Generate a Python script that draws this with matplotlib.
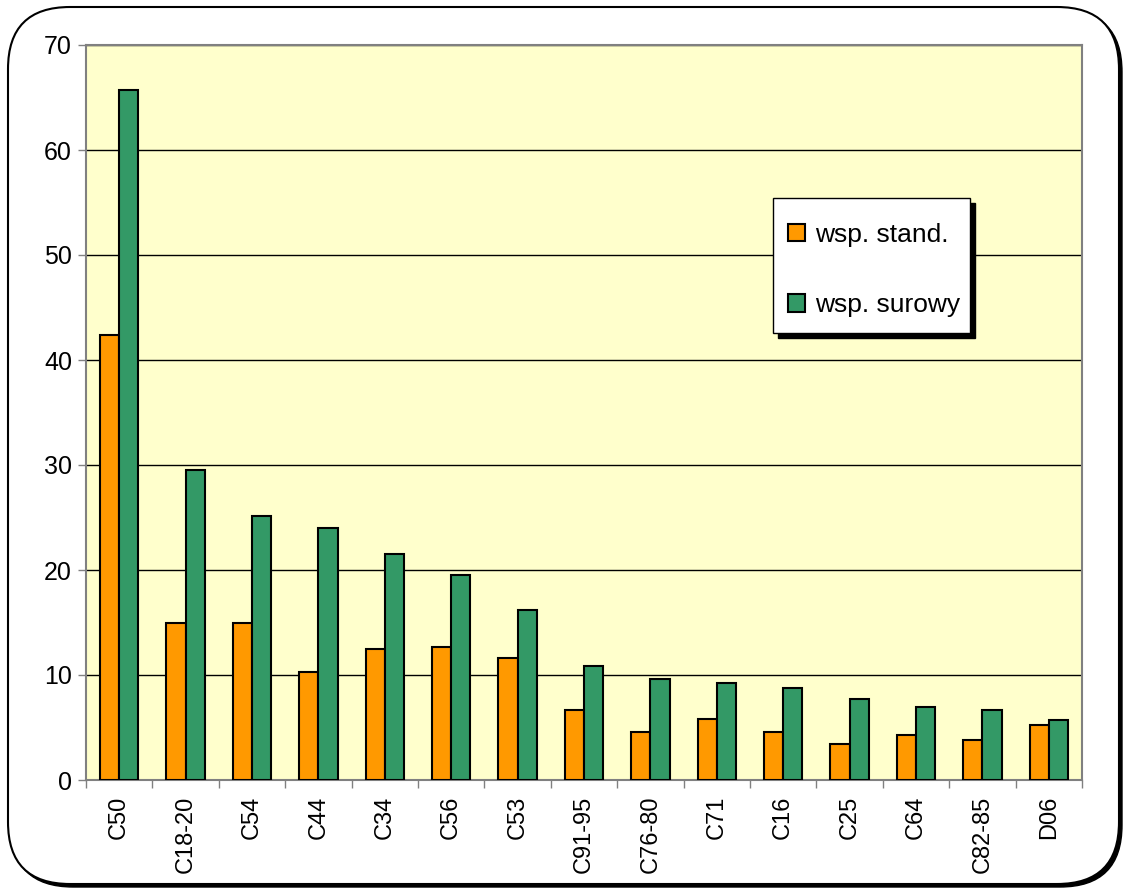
import matplotlib
matplotlib.use('Agg')
from matplotlib import pyplot as plt
from matplotlib.patches import FancyBboxPatch, Rectangle
from matplotlib.transforms import IdentityTransform
import numpy as np

plt.rcParams['font.family'] = ['Liberation Sans', 'DejaVu Sans']

# categories and values
categories = ['C50', 'C18-20', 'C54', 'C44', 'C34', 'C56', 'C53', 'C91-95',
              'C76-80', 'C71', 'C16', 'C25', 'C64', 'C82-85', 'D06']
wsp_stand = [42.4, 15.0, 15.0, 10.3, 12.5, 12.7, 11.6, 6.7,
             4.6, 5.8, 4.6, 3.4, 4.3, 3.8, 5.2]
wsp_surowy = [65.7, 29.5, 25.1, 24.0, 21.5, 19.5, 16.2, 10.9,
              9.6, 9.2, 8.8, 7.7, 7.0, 6.7, 5.7]

fig = plt.figure(figsize=(11.29, 8.91), dpi=100)

# rounded frame around the whole chart (pixel coordinates), behind the axes
shadow = FancyBboxPatch((11, 4), 1111, 877, boxstyle='round,pad=0,rounding_size=62',
                        transform=IdentityTransform(), facecolor='black',
                        edgecolor='black', lw=1, zorder=-2)
frame = FancyBboxPatch((8, 7), 1111, 877, boxstyle='round,pad=0,rounding_size=62',
                       transform=IdentityTransform(), facecolor='white',
                       edgecolor='black', lw=1.5, zorder=-1)
fig.patches.append(shadow)
fig.patches.append(frame)

ax = fig.add_axes([86 / 1129, 1 - 780 / 891, 996 / 1129, 735 / 891])
ax.set_facecolor('#FFFFCC')

x = np.arange(len(categories))
w = 0.29
ax.bar(x - w / 2, wsp_stand, w, color='#FF9900', edgecolor='black', lw=1.5,
       label='wsp. stand.', zorder=3)
ax.bar(x + w / 2, wsp_surowy, w, color='#339966', edgecolor='black', lw=1.5,
       label='wsp. surowy', zorder=3)

ax.set_xlim(-0.5, len(categories) - 0.5)
ax.set_ylim(0, 70)
ax.set_yticks(range(0, 71, 10))
ax.yaxis.grid(True, color='black', lw=1, zorder=1)

ax.set_xticks(x)
ax.set_xticklabels(categories, rotation=90, fontsize=17)
ax.set_xticks(np.arange(-0.5, len(categories), 1), minor=True)
ax.tick_params(axis='x', which='major', length=0, pad=11)
ax.tick_params(axis='x', which='minor', length=6, width=1, color='#808080', direction='out')
ax.tick_params(axis='y', labelsize=18, length=6, width=1, color='#808080', pad=4)

for s in ax.spines.values():
    s.set_color('#808080')
    s.set_linewidth(1.5)

# legend box with black drop shadow, drawn by hand
bx, by, bw, bh = 0.69, 0.608, 0.198, 0.184
ax.add_patch(Rectangle((bx + 5 / 996, by - 5 / 735), bw, bh, transform=ax.transAxes,
                       facecolor='black', edgecolor='black', zorder=5))
ax.add_patch(Rectangle((bx, by), bw, bh, transform=ax.transAxes,
                       facecolor='white', edgecolor='black', lw=1, zorder=6))
leg = ax.legend(loc='upper left', bbox_to_anchor=(bx + 15 / 996, by + bh - 25 / 735),
                fontsize=19, frameon=False, handlelength=0.65, handleheight=0.65,
                labelspacing=1.75, borderpad=0, handletextpad=0.35, borderaxespad=0)
leg.set_zorder(7)

plt.savefig('out.png', dpi=100)
